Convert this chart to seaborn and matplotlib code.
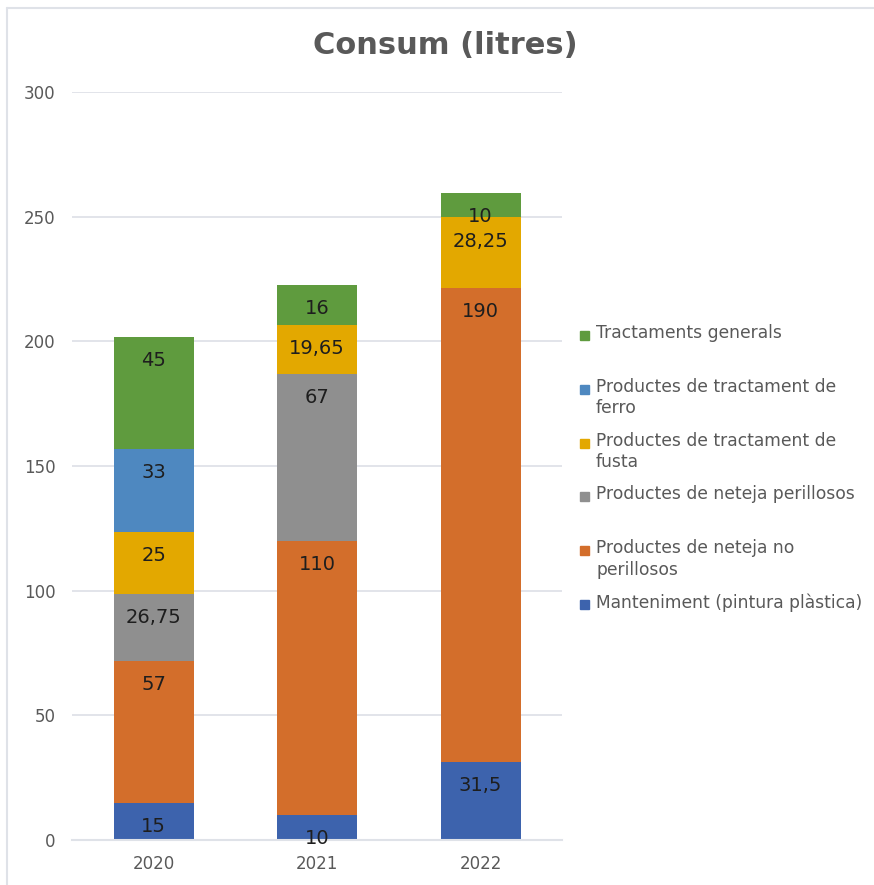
import numpy as np
import pandas as pd
import matplotlib
matplotlib.use("Agg")
import matplotlib.pyplot as plt
from matplotlib.patches import Rectangle
from matplotlib.lines import Line2D
import seaborn as sns

# ── Data ───────────────────────────────────────────────────────────────────
YEARS = ["2020", "2021", "2022"]
# series listed bottom -> top of the stack
SERIES = [
    "Manteniment (pintura plàstica)",
    "Productes de neteja no perillosos",
    "Productes de neteja perillosos",
    "Productes de tractament de fusta",
    "Productes de tractament de ferro",
    "Tractaments generals",
]
MANTENIMENT   = [15, 10, 31.5]
NETEJA_NO     = [57, 110, 190]
NETEJA_PERILL = [26.75, 67, 0]
FUSTA         = [25, 19.65, 28.25]
FERRO         = [33, 0, 0]
GENERALS      = [45, 16, 10]
LEGEND_LABELS = [
    "Manteniment (pintura plàstica)",
    "Productes de neteja no\nperillosos",
    "Productes de neteja perillosos",
    "Productes de tractament de\nfusta",
    "Productes de tractament de\nferro",
    "Tractaments generals",
]

# ── Palette ────────────────────────────────────────────────────────────────
COLORS = ["#3d63ad", "#d36e2b", "#8f8f8f", "#e3a800", "#4e88c0", "#5f9b3e"]
GRID   = "#dfe2e8"
TXT    = "#595959"
LBL    = "#1e1e1e"


def fmt(v):
    return f"{v:g}".replace(".", ",")


def main():
    sns.set_theme(style="white")
    plt.rcParams["font.family"] = ["DejaVu Sans"]

    vals = [MANTENIMENT, NETEJA_NO, NETEJA_PERILL, FUSTA, FERRO, GENERALS]
    df = pd.DataFrame({"year": YEARS})
    for name, v in zip(SERIES, vals):
        df[name] = v
    cum = df[SERIES].cumsum(axis=1)

    fig = plt.figure(figsize=(8.74, 8.85), dpi=100)
    fig.patch.set_facecolor("white")
    ax = fig.add_axes([0.0824, 0.0508, 0.561, 0.845])

    # draw cumulative bars from top series down so lower ones overlay
    for i in range(len(SERIES) - 1, -1, -1):
        sns.barplot(x=df["year"], y=cum[SERIES[i]], color=COLORS[i],
                    width=0.49, linewidth=0, saturation=1, ax=ax)

    # data labels, inside end of each segment
    for i, name in enumerate(SERIES):
        for j in range(len(YEARS)):
            v = df[name].iloc[j]
            if v == 0:
                continue
            ax.annotate(fmt(v), (j, cum[name].iloc[j]), xytext=(0, -17),
                        textcoords="offset points", ha="center", va="center",
                        fontsize=14, color=LBL, zorder=5)

    ax.set_ylim(0, 300)
    ax.set_yticks(range(0, 301, 50))
    ax.set_xlabel(""); ax.set_ylabel("")
    ax.yaxis.grid(True, color=GRID, linewidth=1.3)
    ax.set_axisbelow(True)
    for s in ["top", "right", "left"]:
        ax.spines[s].set_visible(False)
    ax.spines["bottom"].set_color(GRID)
    ax.spines["bottom"].set_linewidth(1.5)
    ax.tick_params(axis="y", length=0, pad=12, labelsize=12, labelcolor=TXT)
    ax.tick_params(axis="x", length=0, pad=11, labelsize=12, labelcolor=TXT)

    fig.text(0.51, 1 - 45 / 885, "Consum (litres)", ha="center", va="center",
             fontsize=22, fontweight="bold", color=TXT)

    # legend, top entry first, equal slot height like the original
    y0 = 335
    for k, i in enumerate(range(len(SERIES) - 1, -1, -1)):
        yc = y0 + k * 53.8
        fig.patches.append(Rectangle((580 / 874, 1 - (yc + 5) / 885), 9 / 874, 9 / 885,
                                     transform=fig.transFigure, color=COLORS[i]))
        fig.text(596 / 874, 1 - (yc - 11) / 885, LEGEND_LABELS[i], ha="left", va="top",
                 fontsize=12.3, color=TXT, linespacing=1.25)

    # chart frame
    fig.add_artist(Line2D([7 / 874, 7 / 874], [0, 1 - 8 / 885], color=GRID, lw=1.5,
                          transform=fig.transFigure))
    fig.add_artist(Line2D([7 / 874, 1], [1 - 8 / 885, 1 - 8 / 885], color=GRID, lw=1.5,
                          transform=fig.transFigure))

    fig.savefig("out.png", dpi=100, facecolor="white")
    plt.close(fig)


if __name__ == "__main__":
    main()
